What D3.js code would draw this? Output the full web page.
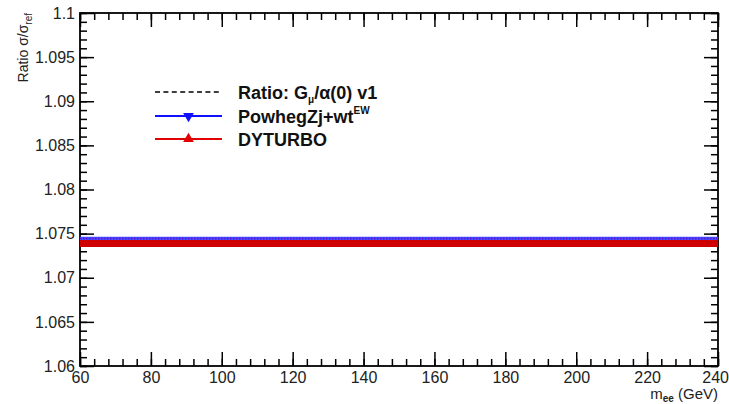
<!DOCTYPE html>
<html>
<head>
<meta charset="utf-8">
<script src="https://cdn.jsdelivr.net/npm/d3@7"></script>
<style>
  body { margin: 0; background: #fff; }
  svg { display: block; font-family: "Liberation Sans", Arial, sans-serif; }
  .tick text { fill: #222; }
</style>
</head>
<body>
<svg id="chart" width="729" height="404"></svg>
<script>
// mass points (GeV) and ratios
const mass = [60, 70, 80, 90, 100, 110, 120, 130, 140, 150, 160, 170, 180, 190, 200, 210, 220, 230, 240];
const ratioV1 = [1.0744, 1.0744, 1.0744, 1.0744, 1.0744, 1.0744, 1.0744, 1.0744, 1.0744, 1.0744,
                 1.0744, 1.0744, 1.0744, 1.0744, 1.0744, 1.0744, 1.0744, 1.0744, 1.0744];
const powheg = [1.07445, 1.07445, 1.07445, 1.07445, 1.07445, 1.07445, 1.07445, 1.07445, 1.07445, 1.07445,
                1.07445, 1.07445, 1.07445, 1.07445, 1.07445, 1.07445, 1.07445, 1.07445, 1.07445];
const dyturbo = [1.07388, 1.07388, 1.07388, 1.07388, 1.07388, 1.07388, 1.07388, 1.07388, 1.07388, 1.07388,
                 1.07388, 1.07388, 1.07388, 1.07388, 1.07388, 1.07388, 1.07388, 1.07388, 1.07388];
const xMajor = [60, 80, 100, 120, 140, 160, 180, 200, 220, 240];
const yMajor = [1.06, 1.065, 1.07, 1.075, 1.08, 1.085, 1.09, 1.095, 1.1];

const svg = d3.select("#chart");
const pLeft = 80, pRight = 718, pTop = 13, pBottom = 366;

const x = d3.scaleLinear().domain([60, 240]).range([pLeft, pRight]);
const y = d3.scaleLinear().domain([1.06, 1.1]).range([pBottom, pTop]);

const xMinor = d3.range(60, 240.01, 4);
const yMinor = d3.range(0, 41).map(i => 1.06 + i * 0.001);

function styleAxis(g) {
  g.select(".domain").remove();
  g.selectAll(".tick line").attr("stroke", "#000").attr("stroke-width", 1.5);
  g.selectAll("text").attr("font-size", 16);
}

// bottom
const xAxisG = svg.append("g").attr("transform", `translate(0,${pBottom})`)
  .call(d3.axisBottom(x).tickValues(xMajor).tickSize(-14).tickPadding(6).tickFormat(d3.format("d")))
  .call(styleAxis);
// keep the last label inside the picture
xAxisG.selectAll(".tick text").filter(d => d === 240)
  .attr("text-anchor", "end").attr("x", 10.5);
svg.append("g").attr("transform", `translate(0,${pBottom})`)
  .call(d3.axisBottom(x).tickValues(xMinor).tickSize(-7).tickFormat(""))
  .call(styleAxis);
// top
svg.append("g").attr("transform", `translate(0,${pTop})`)
  .call(d3.axisTop(x).tickValues(xMajor).tickSize(-14).tickFormat(""))
  .call(styleAxis);
svg.append("g").attr("transform", `translate(0,${pTop})`)
  .call(d3.axisTop(x).tickValues(xMinor).tickSize(-7).tickFormat(""))
  .call(styleAxis);
// left
svg.append("g").attr("transform", `translate(${pLeft},0)`)
  .call(d3.axisLeft(y).tickValues(yMajor).tickSize(-14).tickPadding(5).tickFormat(d => String(+d.toFixed(3))))
  .call(styleAxis);
svg.append("g").attr("transform", `translate(${pLeft},0)`)
  .call(d3.axisLeft(y).tickValues(yMinor).tickSize(-7).tickFormat(""))
  .call(styleAxis);
// right
svg.append("g").attr("transform", `translate(${pRight},0)`)
  .call(d3.axisRight(y).tickValues(yMajor).tickSize(-14).tickFormat(""))
  .call(styleAxis);
svg.append("g").attr("transform", `translate(${pRight},0)`)
  .call(d3.axisRight(y).tickValues(yMinor).tickSize(-7).tickFormat(""))
  .call(styleAxis);

// frame
svg.append("rect")
  .attr("x", pLeft).attr("y", pTop)
  .attr("width", pRight - pLeft).attr("height", pBottom - pTop)
  .attr("fill", "none").attr("stroke", "#000").attr("stroke-width", 1.8);

// curves
const line = vals => d3.line().x((d, i) => x(mass[i])).y(d => y(d))(vals);

svg.append("path").attr("d", line(ratioV1))
  .attr("fill", "none").attr("stroke", "#000").attr("stroke-width", 1.5)
  .attr("stroke-dasharray", "5,3.4");
svg.append("path").attr("d", line(powheg))
  .attr("fill", "none").attr("stroke", "#4a4aff").attr("stroke-width", 3.5);
svg.append("path").attr("d", line(powheg))
  .attr("fill", "none").attr("stroke", "#5a10c8").attr("stroke-width", 1.5)
  .attr("stroke-dasharray", "1.5,1.5");
svg.append("path").attr("d", line(dyturbo))
  .attr("fill", "none").attr("stroke", "#d00000").attr("stroke-width", 7);

// legend
const legend = svg.append("g").attr("font-size", 18).attr("font-weight", "bold").attr("fill", "#111");
const lx0 = 155, lx1 = 222, tx = 238;
const rows = [92, 116, 139];

legend.append("line").attr("x1", lx0).attr("x2", lx1).attr("y1", rows[0]).attr("y2", rows[0])
  .attr("stroke", "#000").attr("stroke-width", 1.5).attr("stroke-dasharray", "5,3.4");
legend.append("line").attr("x1", lx0).attr("x2", lx1).attr("y1", rows[1]).attr("y2", rows[1])
  .attr("stroke", "#1010ff").attr("stroke-width", 2);
legend.append("path")
  .attr("transform", `translate(${(lx0 + lx1) / 2},${rows[1]}) rotate(180)`)
  .attr("d", d3.symbol(d3.symbolTriangle, 50)()).attr("fill", "#1010ff");
legend.append("line").attr("x1", lx0).attr("x2", lx1).attr("y1", rows[2]).attr("y2", rows[2])
  .attr("stroke", "#e00000").attr("stroke-width", 2);
legend.append("path")
  .attr("transform", `translate(${(lx0 + lx1) / 2},${rows[2]})`)
  .attr("d", d3.symbol(d3.symbolTriangle, 50)()).attr("fill", "#e00000");

const t1 = legend.append("text").attr("x", tx).attr("y", rows[0] + 6.5);
t1.append("tspan").text("Ratio: G");
t1.append("tspan").attr("font-size", 10).attr("dy", 4).text("μ");
t1.append("tspan").attr("dy", -4).text("/α(0) v1");

const t2 = legend.append("text").attr("x", tx).attr("y", rows[1] + 6.5);
t2.append("tspan").text("PowhegZj+wt");
t2.append("tspan").attr("font-size", 10).attr("dy", -9).text("EW");

legend.append("text").attr("x", tx).attr("y", rows[2] + 6.5).text("DYTURBO");

// axis titles
const yl = svg.append("text")
  .attr("transform", `translate(28,${pTop}) rotate(-90)`)
  .attr("text-anchor", "end").attr("font-size", 14).attr("fill", "#222");
yl.append("tspan").text("Ratio σ/σ");
yl.append("tspan").attr("font-size", 10).attr("dy", 4).text("ref");

const xl = svg.append("text")
  .attr("x", pRight).attr("y", 399)
  .attr("text-anchor", "end").attr("font-size", 15).attr("fill", "#222");
xl.append("tspan").text("m");
xl.append("tspan").attr("font-size", 10).attr("font-weight", "bold").attr("dy", 3).text("ee");
xl.append("tspan").attr("dy", -3).text(" (GeV)");
</script>
</body>
</html>
